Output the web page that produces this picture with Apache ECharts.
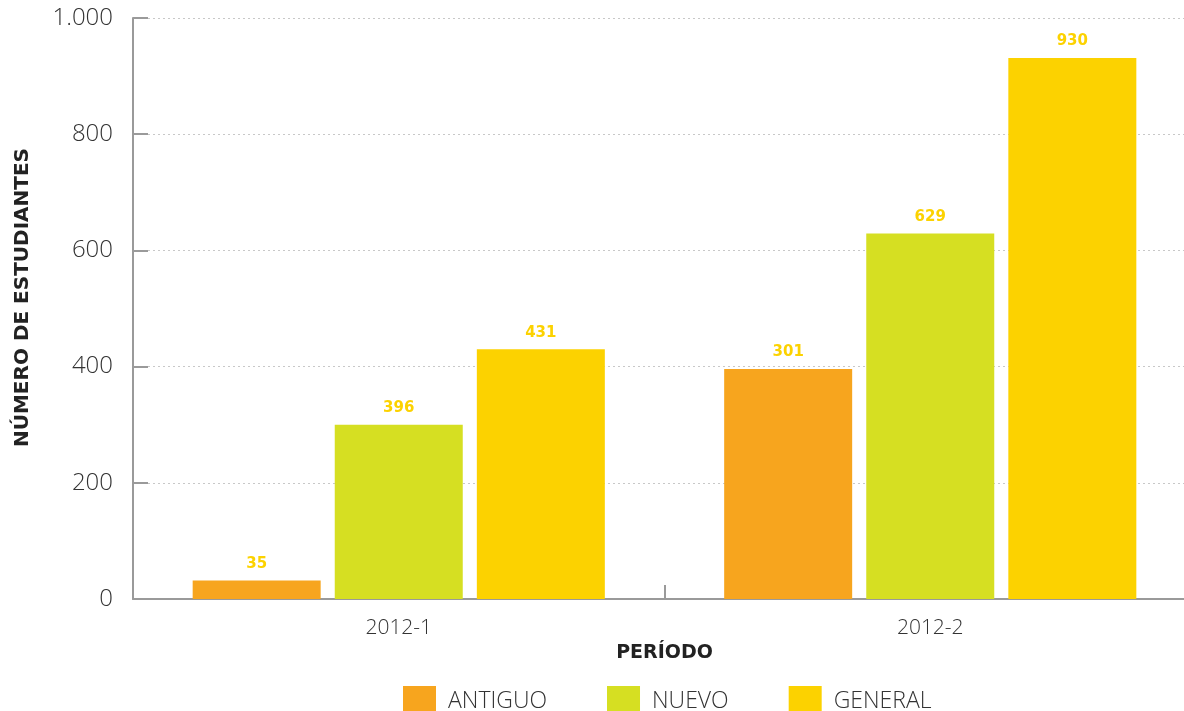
<!DOCTYPE html>
<html>
<head>
<meta charset="utf-8">
<title>Número de estudiantes por período</title>
<script src="https://cdn.jsdelivr.net/npm/echarts@6/dist/echarts.min.js"></script>
<style>
  html, body { margin: 0; padding: 0; background: #fff; }
  #main { width: 1184px; height: 711px; }
</style>
</head>
<body>
<div id="main"></div>
<script>
  // datos
  var categories = ['2012-1', '2012-2'];
  var seriesNames = ['ANTIGUO', 'NUEVO', 'GENERAL'];
  // altura de las barras tal como están dibujadas
  var antiguo = [32, 396];
  var nuevo = [300, 629];
  var general = [430, 931];
  // etiquetas que muestra el original encima de cada barra
  var antiguoLabels = [35, 301];
  var nuevoLabels = [396, 629];
  var generalLabels = [431, 930];
  var yTicks = [0, 200, 400, 600, 800, 1000];

  var colors = ['#F7A51E', '#D6DF22', '#FCD200'];
  var thinFont = "'Open Sans', 'Lato', sans-serif";
  var boldFont = "'DejaVu Sans', sans-serif";

  function makeSeries(name, data, labels, color) {
    return {
      name: name,
      type: 'bar',
      data: data,
      barWidth: 128,
      barGap: '11%',
      itemStyle: { color: color },
      label: {
        show: true,
        position: 'top',
        distance: 9,
        color: '#FCD200',
        fontFamily: boldFont,
        fontWeight: 'bold',
        fontSize: 15,
        formatter: function (p) {
          return labels[p.dataIndex];
        }
      }
    };
  }

  var option = {
    animation: false,
    color: colors,
    grid: {
      left: 133,
      right: -12,
      top: 18,
      bottom: 112,
      outerBoundsMode: 'none'
    },
    legend: {
      data: seriesNames,
      top: 681,
      left: 398,
      itemWidth: 33,
      itemHeight: 30,
      itemGap: 60,
      icon: 'rect',
      textStyle: {
        color: '#333',
        fontFamily: thinFont,
        fontWeight: 300,
        fontSize: 23,
        padding: [0, 0, 0, 7]
      }
    },
    xAxis: {
      type: 'category',
      data: categories,
      name: 'PERÍODO',
      nameLocation: 'middle',
      nameGap: 39,
      nameTextStyle: {
        color: '#222',
        fontFamily: boldFont,
        fontWeight: 'bold',
        fontSize: 19
      },
      axisLine: { show: true, lineStyle: { color: '#9a9a9a', width: 2 } },
      axisTick: { show: true, interval: 0, inside: true, length: 14, lineStyle: { color: '#9a9a9a', width: 2 } },
      axisLabel: {
        color: '#333',
        fontFamily: thinFont,
        fontWeight: 300,
        fontSize: 21,
        margin: 19
      }
    },
    yAxis: {
      type: 'value',
      min: yTicks[0],
      max: yTicks[yTicks.length - 1],
      interval: 200,
      name: 'NÚMERO DE ESTUDIANTES',
      nameLocation: 'middle',
      nameGap: 100,
      nameTextStyle: {
        color: '#222',
        fontFamily: boldFont,
        fontWeight: 'bold',
        fontSize: 20,
        padding: [0, 0, 0, 22]
      },
      axisLine: { show: true, lineStyle: { color: '#9a9a9a', width: 2 } },
      axisTick: { show: true, inside: true, length: 15, lineStyle: { color: '#9a9a9a', width: 2 } },
      axisLabel: {
        color: '#333',
        fontFamily: thinFont,
        fontWeight: 300,
        fontSize: 24,
        margin: 20,
        formatter: function (v) {
          return v >= 1000 ? String(v).replace(/(\d)(\d{3})$/, '$1.$2') : String(v);
        }
      },
      splitLine: { lineStyle: { color: '#c8c8c8', type: [2, 3], width: 1 } }
    },
    series: [
      makeSeries(seriesNames[0], antiguo, antiguoLabels, colors[0]),
      makeSeries(seriesNames[1], nuevo, nuevoLabels, colors[1]),
      makeSeries(seriesNames[2], general, generalLabels, colors[2])
    ]
  };

  var myChart = echarts.init(document.getElementById('main'));
  myChart.setOption(option);
  window.addEventListener('resize', function () {
    myChart.resize();
  });
</script>
</body>
</html>
